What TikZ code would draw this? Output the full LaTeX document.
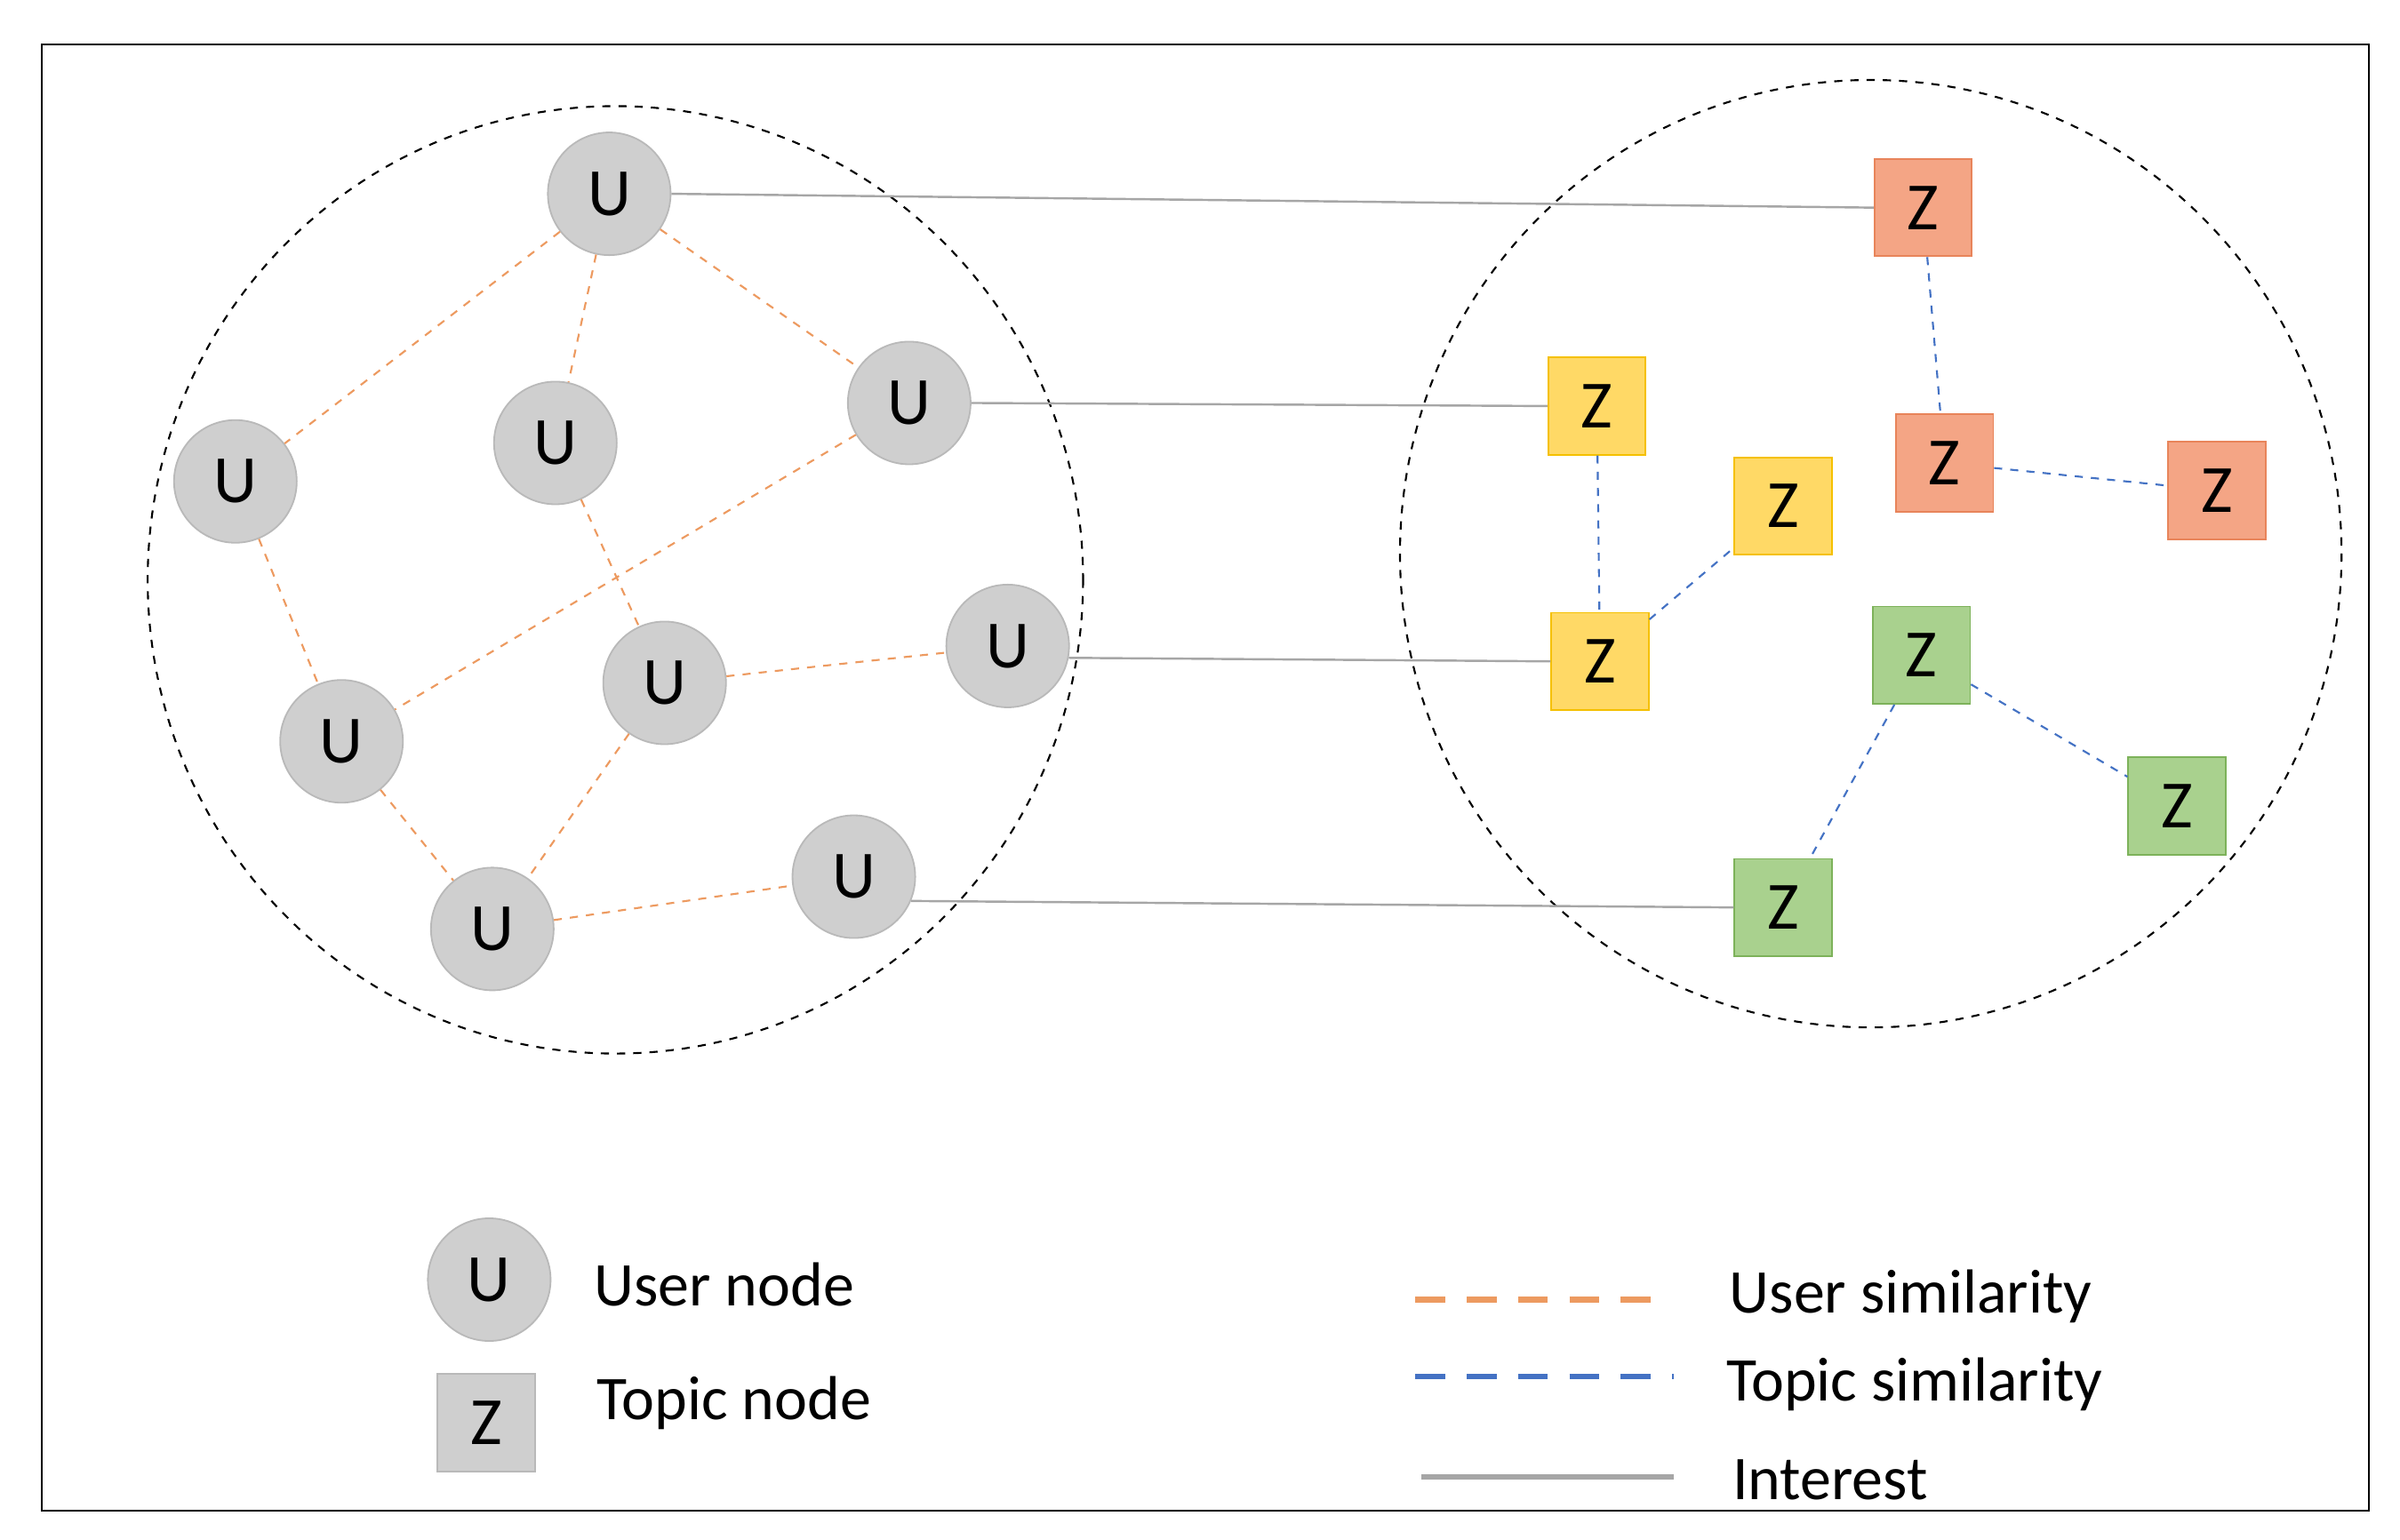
\documentclass[tikz,border=0pt]{standalone}
\usepackage{fontspec}
\setmainfont{Carlito}
\definecolor{zred}{HTML}{F4A585}
\definecolor{zredd}{HTML}{E8845A}
\definecolor{zyel}{HTML}{FFD966}
\definecolor{zyeld}{HTML}{F5C000}
\definecolor{zgrn}{HTML}{A9D18E}
\definecolor{zgrnd}{HTML}{7DB25A}
\definecolor{uso}{HTML}{ED9A60}
\definecolor{tsb}{HTML}{4472C4}
\begin{document}
\begin{tikzpicture}[x=0.02cm,y=-0.02cm,
 unode/.style={circle,minimum size=45.4pt,inner sep=0pt,fill=gray!38,draw=gray!55,line width=0.6pt,font=\fontsize{25}{25}\selectfont},
 znode/.style={rectangle,minimum size=36pt,inner sep=0pt,line width=0.6pt,font=\fontsize{25}{25}\selectfont},
 red/.style={znode,fill=zred,draw=zredd},
 yel/.style={znode,fill=zyel,draw=zyeld},
 grn/.style={znode,fill=zgrn,draw=zgrnd},
 us/.style={dashed,draw=uso,line width=0.7pt},
 ts/.style={dashed,draw=tsb,line width=0.7pt},
 it/.style={draw=gray!70,line width=0.8pt},
 lab/.style={anchor=west,font=\fontsize{23}{23}\selectfont}]
\useasboundingbox (0,0) rectangle (1560,1001);
\fill[white] (0,0) rectangle (1560,1001);
\draw[line width=0.6pt] (27,29) rectangle (1540,982);
\draw[dashed,line width=0.7pt] (400,377) ellipse [x radius=304,y radius=308];
\draw[dashed,line width=0.7pt] (1216,360) ellipse [x radius=306,y radius=308];
\node[unode] (u1) at (396,126) {U};
\node[unode] (u2) at (591,262) {U};
\node[unode] (u3) at (361,288) {U};
\node[unode] (u4) at (153,313) {U};
\node[unode] (u5) at (655,420) {U};
\node[unode] (u6) at (432,444) {U};
\node[unode] (u7) at (222,482) {U};
\node[unode] (u8) at (555,570) {U};
\node[unode] (u9) at (320,604) {U};
\node[red] (z1) at (1250,135) {Z};
\node[red] (z2) at (1264,301) {Z};
\node[red] (z3) at (1441,319) {Z};
\node[yel] (z4) at (1038,264) {Z};
\node[yel] (z5) at (1159,329) {Z};
\node[yel] (z6) at (1040,430) {Z};
\node[grn] (z7) at (1249,426) {Z};
\node[grn] (z8) at (1415,524) {Z};
\node[grn] (z9) at (1159,590) {Z};
\foreach \a/\b in {u1/u4,u1/u3,u1/u2,u4/u7,u2/u7,u3/u6,u6/u5,u7/u9,u6/u9,u9/u8}
  \draw[us] (\a) -- (\b);
\foreach \a/\b in {z1/z2,z2/z3,z4/z6,z6/z5,z7/z8,z7/z9}
  \draw[ts] (\a) -- (\b);
\draw[it] (u1.east) -- (z1.west);
\draw[it] (u2.east) -- (z4.west);
\draw[it] (u5.-11) -- (z6.west);
\draw[it] (u8.-23) -- (z9.west);
\node[unode] (lu) at (318,832) {U};
\node[znode,fill=gray!38,draw=gray!55] (lz) at (316,925) {Z};
\node[lab] (tu) at (380,835) {User node};
\node[lab] (tz) at (382,912) {Topic node};
\coordinate (a1) at (920,845); \coordinate (a2) at (1085,845);
\coordinate (b1) at (920,895); \coordinate (b2) at (1088,895);
\coordinate (c1) at (924,960); \coordinate (c2) at (1088,960);
\draw[us,line width=2pt,dash pattern=on 11pt off 8pt] (a1) -- (a2);
\draw[ts,line width=2pt,dash pattern=on 11pt off 8pt] (b1) -- (b2);
\draw[it,line width=2pt] (c1) -- (c2);
\node[lab] (t1) at (1118,843) {User similarity};
\node[lab] (t2) at (1116,900) {Topic similarity};
\node[lab] (t3) at (1120,962) {Interest};
\end{tikzpicture}
\end{document}
